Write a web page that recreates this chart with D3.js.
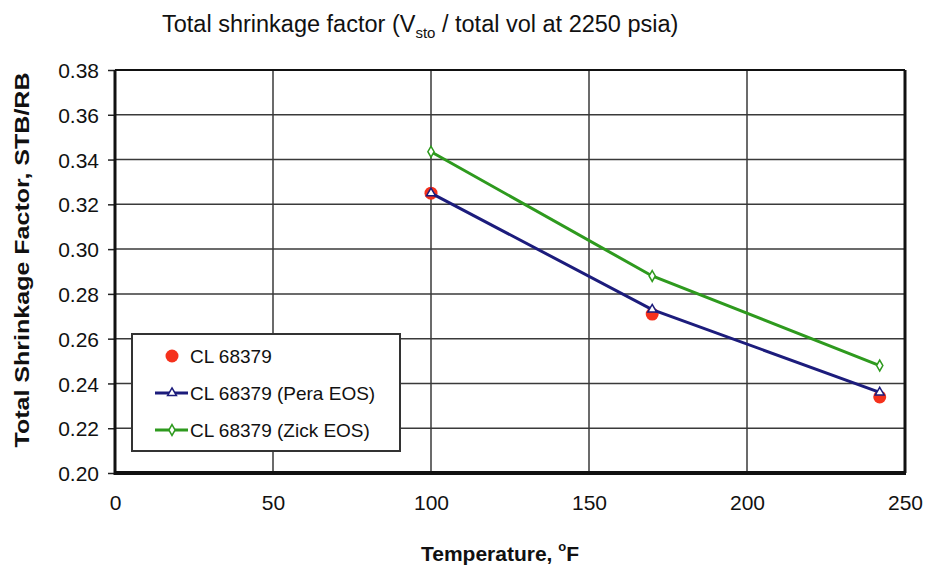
<!DOCTYPE html>
<html><head><meta charset="utf-8">
<script src="https://cdn.jsdelivr.net/npm/d3@7/dist/d3.min.js"></script>
<style>body{margin:0;background:#fff;} text{font-family:"Liberation Sans",Arial,sans-serif;}</style>
</head><body>
<svg id="c" width="927" height="568"></svg>
<script>
const temps = [100, 170, 242];
const measured = [0.325, 0.271, 0.234];
const peraEOS = [0.325, 0.273, 0.236];
const zickEOS = [0.3435, 0.288, 0.248];
const xTicks = [0, 50, 100, 150, 200, 250];
const yTicks = [0.20, 0.22, 0.24, 0.26, 0.28, 0.30, 0.32, 0.34, 0.36, 0.38];
const seriesNames = ["CL 68379", "CL 68379 (Pera EOS)", "CL 68379 (Zick EOS)"];

const svg = d3.select("#c");
const L = 115, R = 905, T = 70, B = 473;
const x = d3.scaleLinear().domain([0, 250]).range([L, R]);
const y = d3.scaleLinear().domain([0.20, 0.38]).range([B, T]);

// grid
svg.append("g").selectAll("line.h").data(yTicks).join("line")
  .attr("x1", L).attr("x2", R).attr("y1", d => y(d)).attr("y2", d => y(d))
  .attr("stroke", "#3a3a3a").attr("stroke-width", 1.5);
svg.append("g").selectAll("line.v").data(xTicks).join("line")
  .attr("x1", d => x(d)).attr("x2", d => x(d)).attr("y1", T).attr("y2", B)
  .attr("stroke", "#3a3a3a").attr("stroke-width", 1.5);

// axes
const yAxis = d3.axisLeft(y).tickValues(yTicks).tickFormat(d3.format(".2f")).tickSize(7).tickPadding(9);
const gy = svg.append("g").attr("transform", `translate(${L},0)`).call(yAxis);
gy.select(".domain").remove();
gy.selectAll("line").attr("stroke", "#222").attr("stroke-width", 1.5);
gy.selectAll("text").attr("font-size", 21).attr("fill", "#111").attr("dy", "0.36em");

const xAxis = d3.axisBottom(x).tickValues(xTicks).tickFormat(d3.format("d")).tickSize(0).tickPadding(22);
const gx = svg.append("g").attr("transform", `translate(0,${B})`).call(xAxis);
gx.select(".domain").remove();
gx.selectAll("text").attr("font-size", 21).attr("fill", "#111");

// frame
svg.append("line").attr("x1", L).attr("x2", R).attr("y1", T).attr("y2", T).attr("stroke", "#111").attr("stroke-width", 2);
svg.append("line").attr("x1", R).attr("x2", R).attr("y1", T).attr("y2", B).attr("stroke", "#111").attr("stroke-width", 3);
svg.append("line").attr("x1", L).attr("x2", L).attr("y1", T).attr("y2", B+2).attr("stroke", "#111").attr("stroke-width", 3);
svg.append("line").attr("x1", L-1).attr("x2", R+1).attr("y1", B).attr("y2", B).attr("stroke", "#111").attr("stroke-width", 4);

// data
const red = "#f5311c", navy = "#1c1c7c", green = "#2e9a1e";
svg.append("g").selectAll("circle").data(temps).join("circle")
  .attr("cx", d => x(d)).attr("cy", (d, i) => y(measured[i])).attr("r", 6.5).attr("fill", red);

const line = d3.line().x(d => x(d[0])).y(d => y(d[1]));
const pera = temps.map((t, i) => [t, peraEOS[i]]);
const zick = temps.map((t, i) => [t, zickEOS[i]]);
svg.append("path").datum(pera).attr("d", line).attr("fill", "none").attr("stroke", navy).attr("stroke-width", 3);
svg.append("path").datum(zick).attr("d", line).attr("fill", "none").attr("stroke", green).attr("stroke-width", 3);
const tri = d3.symbol().type(d3.symbolTriangle).size(34);
const dia = d3.symbol().type(d3.symbolDiamond).size(34);
svg.append("g").selectAll("path").data(pera).join("path")
  .attr("d", tri).attr("transform", d => `translate(${x(d[0])},${y(d[1])})`)
  .attr("fill", "#fff").attr("stroke", navy).attr("stroke-width", 1.5);
svg.append("g").selectAll("path").data(zick).join("path")
  .attr("d", dia).attr("transform", d => `translate(${x(d[0])},${y(d[1])})`)
  .attr("fill", "#fff").attr("stroke", green).attr("stroke-width", 1.5);

// legend
const lg = svg.append("g");
lg.append("rect").attr("x", 132).attr("y", 334).attr("width", 268).attr("height", 117)
  .attr("fill", "#fff").attr("stroke", "#333").attr("stroke-width", 2);
const rows = [356, 393, 430];
lg.append("circle").attr("cx", 172).attr("cy", rows[0]).attr("r", 6.5).attr("fill", red);
lg.append("line").attr("x1", 155).attr("x2", 188).attr("y1", rows[1]).attr("y2", rows[1]).attr("stroke", navy).attr("stroke-width", 3);
lg.append("path").attr("d", tri).attr("transform", `translate(172,${rows[1]})`).attr("fill", "#fff").attr("stroke", navy).attr("stroke-width", 1.5);
lg.append("line").attr("x1", 155).attr("x2", 188).attr("y1", rows[2]).attr("y2", rows[2]).attr("stroke", green).attr("stroke-width", 3);
lg.append("path").attr("d", dia).attr("transform", `translate(172,${rows[2]})`).attr("fill", "#fff").attr("stroke", green).attr("stroke-width", 1.5);
lg.selectAll("text").data(seriesNames).join("text")
  .attr("x", 190).attr("y", (d, i) => rows[i] + 7).attr("font-size", 19).attr("fill", "#111").text(d => d);

// title
const title = svg.append("text").attr("x", 162).attr("y", 32).attr("font-size", 23.5).attr("fill", "#111");
title.append("tspan").text("Total shrinkage factor (V");
title.append("tspan").attr("font-size", 15).attr("dy", 6).text("sto");
title.append("tspan").attr("dy", -6).text(" / total vol at 2250 psia)");

// axis titles
svg.append("text").attr("transform", "translate(29,260) rotate(-90)").attr("text-anchor", "middle")
  .attr("font-size", 20).attr("font-weight", "bold").attr("fill", "#111")
  .attr("textLength", 375).attr("lengthAdjust", "spacingAndGlyphs")
  .text("Total Shrinkage Factor, STB/RB");
const xt = svg.append("text").attr("x", 500).attr("y", 561).attr("text-anchor", "middle")
  .attr("font-size", 21).attr("font-weight", "bold").attr("fill", "#111");
xt.append("tspan").text("Temperature, ");
xt.append("tspan").attr("font-size", 13).attr("dy", -10).text("o");
xt.append("tspan").attr("dy", 10).text("F");
</script>
</body></html>
